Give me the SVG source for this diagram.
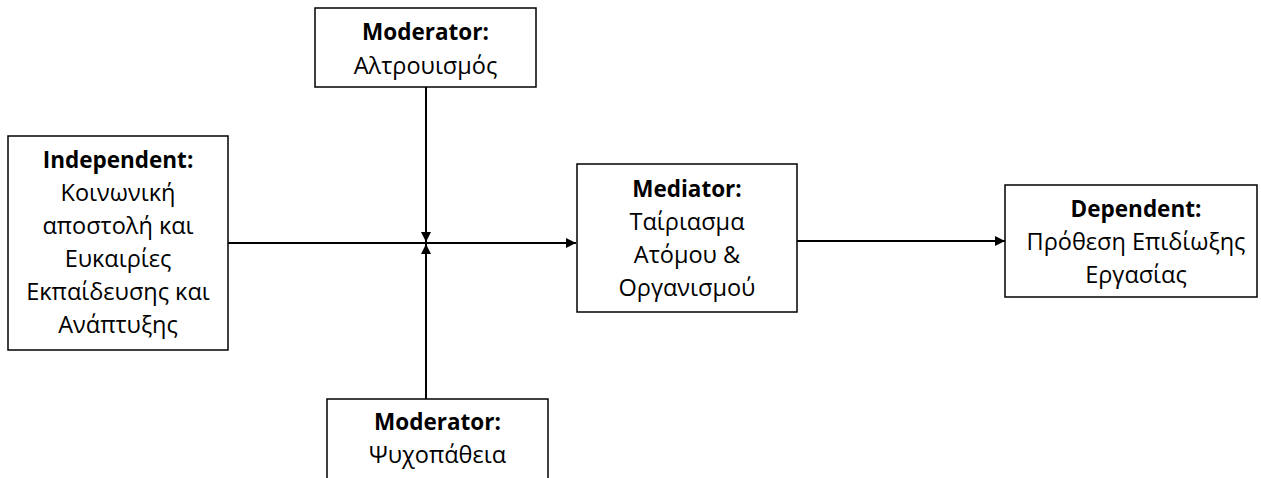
<svg xmlns="http://www.w3.org/2000/svg" width="1261" height="478" viewBox="0 0 1261 478">
  <style>
    .box { fill: #ffffff; stroke: #000000; stroke-width: 1.5; }
    .edge { stroke: #000000; stroke-width: 2; fill: none; marker-end: url(#arrow); }
    text { font-family: "Open Sans", "Noto Sans", "DejaVu Sans", sans-serif; font-size: 23.5px; fill: #000000; text-anchor: middle; }
    .title { font-weight: bold; font-size: 22.5px; }
  </style>
  <defs>
    <marker id="arrow" viewBox="0 0 10 10" refX="10" refY="5" markerWidth="5" markerHeight="5" orient="auto" markerUnits="strokeWidth">
      <path d="M0,0 L10,5 L0,10 z" fill="#000000"/>
    </marker>
  </defs>

  <g id="connectors">
    <line class="edge" x1="228" y1="243" x2="576" y2="243"/>
    <line class="edge" x1="426" y1="87" x2="426" y2="242"/>
    <line class="edge" x1="426" y1="399" x2="426" y2="244"/>
    <line class="edge" x1="797" y1="241" x2="1005" y2="241"/>
  </g>

  <g id="moderator-top">
    <rect class="box" x="315" y="8" width="221" height="79"/>
    <text class="title" x="425.5" y="40">Moderator:</text>
    <text x="425.5" y="74">Αλτρουισμός</text>
  </g>

  <g id="independent">
    <rect class="box" x="8" y="136" width="220" height="214"/>
    <text class="title" x="118" y="168">Independent:</text>
    <text x="118" y="201">Κοινωνική</text>
    <text x="118" y="234">αποστολή και</text>
    <text x="118" y="267">Ευκαιρίες</text>
    <text x="118" y="300">Εκπαίδευσης και</text>
    <text x="118" y="333">Ανάπτυξης</text>
  </g>

  <g id="mediator">
    <rect class="box" x="577" y="164" width="220" height="148"/>
    <text class="title" x="687" y="197">Mediator:</text>
    <text x="687" y="230">Ταίριασμα</text>
    <text x="687" y="263">Ατόμου &amp;</text>
    <text x="687" y="296">Οργανισμού</text>
  </g>

  <g id="dependent">
    <rect class="box" x="1005" y="185" width="252" height="112"/>
    <text class="title" x="1136" y="217">Dependent:</text>
    <text x="1136" y="250">Πρόθεση Επιδίωξης</text>
    <text x="1136" y="283">Εργασίας</text>
  </g>

  <g id="moderator-bottom">
    <rect class="box" x="327" y="399" width="221" height="90"/>
    <text class="title" x="437.5" y="430">Moderator:</text>
    <text x="437.5" y="463">Ψυχοπάθεια</text>
  </g>
</svg>
